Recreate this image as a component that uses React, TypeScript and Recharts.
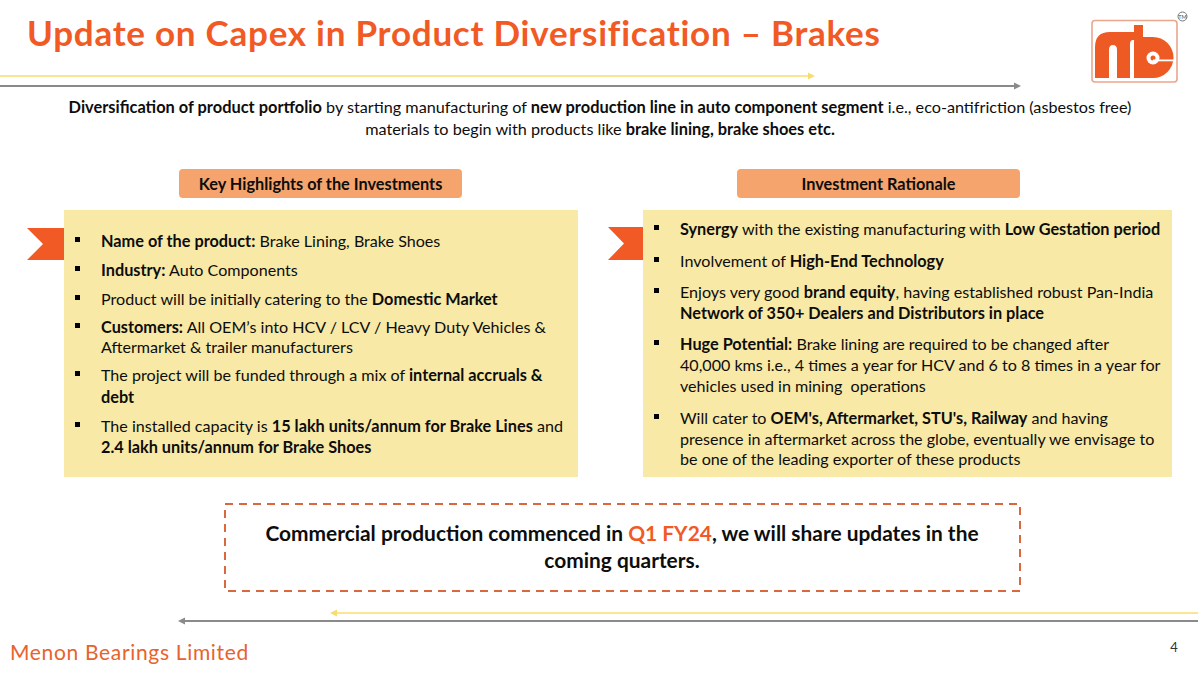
import { Surface, Rectangle, Polygon } from "recharts";

type Run = [string, boolean?, string?];

const ORANGE = "#F15A24";
const FONT = "Lato, sans-serif";
const INK = "#0d0d0d";

const TITLE = "Update on Capex in Product Diversification – Brakes";
const FOOTER = "Menon Bearings Limited";
const PAGE_NO = "4";

const INTRO: Run[][] = [
  [
    ["Diversification of product portfolio", true],
    [" by starting manufacturing of "],
    ["new production line in auto component segment", true],
    [" i.e., eco-antifriction (asbestos free)"],
  ],
  [["materials to begin with products like "], ["brake lining, brake shoes etc.", true]],
];

const LEFT_HEAD = "Key Highlights of the Investments";
const RIGHT_HEAD = "Investment Rationale";

const LEFT_ITEMS: Run[][][] = [
  [[["Name of the product:", true], [" Brake Lining, Brake Shoes"]]],
  [[["Industry:", true], [" Auto Components"]]],
  [[["Product will be initially catering to the "], ["Domestic Market", true]]],
  [
    [["Customers:", true], [" All OEM’s into HCV / LCV / Heavy Duty Vehicles &"]],
    [["Aftermarket & trailer manufacturers"]],
  ],
  [
    [["The project will be funded through a mix of "], ["internal accruals &", true]],
    [["debt", true]],
  ],
  [
    [["The installed capacity is "], ["15 lakh units/annum for Brake Lines", true], [" and"]],
    [["2.4 lakh units/annum for Brake Shoes", true]],
  ],
];

const RIGHT_ITEMS: Run[][][] = [
  [[["Synergy", true], [" with the existing manufacturing with "], ["Low Gestation period", true]]],
  [[["Involvement of "], ["High-End Technology", true]]],
  [
    [["Enjoys very good "], ["brand equity", true], [", having established robust Pan-India"]],
    [["Network of 350+ Dealers and Distributors in place", true]],
  ],
  [
    [["Huge Potential:", true], [" Brake lining are required to be changed after"]],
    [["40,000 kms i.e., 4 times a year for HCV and 6 to 8 times in a year for"]],
    [["vehicles used in mining  operations"]],
  ],
  [
    [["Will cater to "], ["OEM's, Aftermarket, STU's, Railway", true], [" and having"]],
    [["presence in aftermarket across the globe, eventually we envisage to"]],
    [["be one of the leading exporter of these products"]],
  ],
];

const CALLOUT: Run[][] = [
  [
    ["Commercial production commenced in ", true],
    ["Q1 FY24", true, ORANGE],
    [", we will share updates in the", true],
  ],
  [["coming quarters.", true]],
];

const LEFT_BASELINES = [247, 276, 305, 333, 353, 381, 403, 432, 453];
const RIGHT_BASELINES = [235, 267, 298, 319, 350, 371, 392, 424, 445, 465];

function Line({ runs, x, y, size = 16.3, anchor = "start" }: { runs: Run[]; x: number; y: number; size?: number; anchor?: string }) {
  return (
    <text x={x} y={y} fontFamily={FONT} fontSize={size} fill={INK} textAnchor={anchor} xmlSpace="preserve" style={{ whiteSpace: "pre" }}>
      {runs.map(([t, bold, color], i) => (
        <tspan key={i} fontWeight={bold ? 700 : 400} fill={color} fontSize={bold ? size : size - 0.2}>
          {t}
        </tspan>
      ))}
    </text>
  );
}

function BulletList({ items, textX, bulletX, baselines }: { items: Run[][][]; textX: number; bulletX: number; baselines: number[] }) {
  let row = 0;
  return (
    <g>
      {items.map((lines, i) =>
        lines.map((runs, j) => {
          const y = baselines[row++];
          return (
            <g key={`${i}-${j}`}>
              {j === 0 && <Rectangle x={bulletX} y={y - 10} width={5} height={5} fill="#000" />}
              <Line runs={runs} x={textX} y={y} />
            </g>
          );
        })
      )}
    </g>
  );
}

function Ribbon({ x, notch, right, top, bottom }: { x: number; notch: number; right: number; top: number; bottom: number }) {
  const mid = (top + bottom) / 2;
  return (
    <Polygon
      points={[
        { x, y: top },
        { x: right, y: top },
        { x: right, y: bottom },
        { x, y: bottom },
        { x: notch, y: mid },
      ]}
      fill={ORANGE}
    />
  );
}

function Arrow({ x1, x2, y, color, width }: { x1: number; x2: number; y: number; color: string; width: number }) {
  const dir = x2 > x1 ? 1 : -1;
  return (
    <g>
      <line x1={x1} x2={x2 - dir * 5} y1={y} y2={y} stroke={color} strokeWidth={width} />
      <Polygon points={[{ x: x2, y }, { x: x2 - dir * 7, y: y - 3.5 }, { x: x2 - dir * 7, y: y + 3.5 }]} fill={color} />
    </g>
  );
}

function Logo() {
  const c = "#EE5A24";
  return (
    <g>
      <rect x={1092} y={20.5} width={85} height={61.5} rx={3} fill="#fff" stroke="#E9A68C" strokeWidth={1.6} />
      {/* m: the top bar carries on into the b stem, so the thin gap reads as its second arch */}
      <path
        d="M1095 78 V47 Q1095 32 1110 32 H1134 V40 H1133 Q1130 40 1130 44 V78 H1117 V50 Q1117 45 1113 45 Q1109 45 1109 50 V78 Z"
        fill={c}
      />
      <rect x={1134} y={25} width={9} height={53} fill={c} />
      <path d="M1143 37 H1153 A20.5 20.5 0 0 1 1153 78 H1143 Z" fill={c} />
      <circle cx={1153} cy={58} r={6.5} fill="#fff" />
      <circle cx={1153} cy={58} r={2.5} fill={c} />
      <rect x={1153} y={59.5} width={22} height={1.8} fill="#fff" />
      <circle cx={1182.5} cy={16.5} r={4.5} fill="#fff" stroke="#777" strokeWidth={1} />
      <text x={1182.5} y={18.5} fontFamily={FONT} fontSize={5.5} textAnchor="middle" fill="#555">
        TM
      </text>
    </g>
  );
}

export default function App() {
  return (
    <div style={{ position: "absolute", left: 0, top: 0, width: 1200, height: 675, background: "#fff" }}>
      <Surface width={1200} height={675} viewBox={{ x: 0, y: 0, width: 1200, height: 675 }}>
        <text x={27} y={46} fontFamily={FONT} fontSize={35} fontWeight={700} fill={ORANGE} letterSpacing={0.75}>
          {TITLE}
        </text>
        <Logo />
        <Arrow x1={0} x2={815} y={76} color="#F7DC6F" width={1.5} />
        <Arrow x1={0} x2={1021} y={86} color="#8A8A8A" width={2} />

        {INTRO.map((runs, i) => (
          <Line key={i} runs={runs} x={600} y={113 + i * 22} size={16.4} anchor="middle" />
        ))}

        <Rectangle x={179} y={169} width={283} height={29} radius={4} fill="#F4A46C" />
        <Rectangle x={737} y={169} width={283} height={29} radius={4} fill="#F4A46C" />
        <text x={320.5} y={190} fontFamily={FONT} fontSize={16.3} fontWeight={700} fill={INK} textAnchor="middle">
          {LEFT_HEAD}
        </text>
        <text x={878.5} y={190} fontFamily={FONT} fontSize={16.3} fontWeight={700} fill={INK} textAnchor="middle">
          {RIGHT_HEAD}
        </text>

        <Rectangle x={64} y={210} width={514} height={267} fill="#F8E9A6" />
        <Rectangle x={643} y={210} width={529} height={267} fill="#F8E9A6" />
        <Ribbon x={27} notch={43} right={64} top={228} bottom={260} />
        <Ribbon x={608} notch={624} right={643} top={227} bottom={260} />
        <BulletList items={LEFT_ITEMS} textX={101} bulletX={75} baselines={LEFT_BASELINES} />
        <BulletList items={RIGHT_ITEMS} textX={680} bulletX={654} baselines={RIGHT_BASELINES} />

        <rect x={225} y={504} width={795} height={87} fill="none" stroke="#D9683F" strokeWidth={2} strokeDasharray="8 6" />
        {CALLOUT.map((runs, i) => (
          <Line key={i} runs={runs} x={622} y={541 + i * 27} size={20.9} anchor="middle" />
        ))}

        <Arrow x1={1198} x2={330} y={613} color="#F7DC6F" width={1.5} />
        <Arrow x1={1198} x2={178} y={621} color="#8A8A8A" width={2} />
        <text x={10} y={660} fontFamily={FONT} fontSize={21} fill="#E8622C" letterSpacing={0.67}>
          {FOOTER}
        </text>
        <text x={1174} y={652} fontFamily={FONT} fontSize={13} fill="#333" textAnchor="middle">
          {PAGE_NO}
        </text>
      </Surface>
    </div>
  );
}
